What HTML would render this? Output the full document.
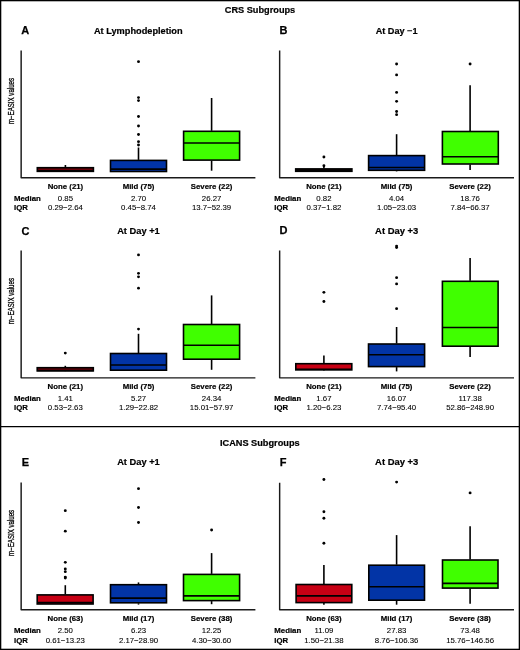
<!DOCTYPE html>
<html><head><meta charset="utf-8"><style>
html,body{margin:0;padding:0;background:#fff;}
body{width:520px;height:650px;overflow:hidden;}
svg{display:block;will-change:transform;font-family:"Liberation Sans",sans-serif;}
.let{font-weight:bold;font-size:11px;stroke:#000;stroke-width:0.25px;}
.ttl{font-weight:bold;font-size:9.15px;stroke:#000;stroke-width:0.2px;}
.hdr{font-weight:bold;font-size:9.2px;stroke:#000;stroke-width:0.2px;}
.lab{font-weight:bold;font-size:7.8px;stroke:#000;stroke-width:0.2px;}
.num{font-size:7.8px;stroke:#000;stroke-width:0.08px;}
.ylab{font-size:8.4px;stroke:#000;stroke-width:0.3px;}
.axis{fill:none;stroke:#1a1a1a;stroke-width:1.45;stroke-linejoin:round;}
.wh{stroke:#000;stroke-width:1.6;}
.box{stroke:#000;stroke-width:1.6;}
.med{stroke:#000;stroke-width:1.6;}
</style></head><body>
<svg width="520" height="650" viewBox="0 0 520 650">
<rect x="0" y="0" width="520" height="650" fill="#fff"/>
<rect x="0.65" y="0.65" width="518.7" height="648.7" fill="none" stroke="#000" stroke-width="1.3"/>
<line x1="0" x2="520" y1="426.55" y2="426.55" stroke="#000" stroke-width="1.2"/>
<text x="260" y="13.4" class="hdr" text-anchor="middle">CRS Subgroups</text>
<text x="259.8" y="445.5" class="hdr" text-anchor="middle">ICANS Subgroups</text>
<text x="21.2" y="34.45" class="let">A</text>
<text x="138.3" y="33.8" class="ttl" text-anchor="middle" textLength="88.7" lengthAdjust="spacingAndGlyphs">At Lymphodepletion</text>
<path d="M21.15 50.5V177.8H255.4" class="axis"/>
<text transform="translate(14.1 101) rotate(-90) scale(0.73 1)" class="ylab" text-anchor="middle">m−EASIX values</text>
<line x1="65.4" x2="65.4" y1="165" y2="167.2" class="wh"/>
<rect x="37.30" y="167.70" width="56.10" height="3.65" fill="#6a0008" class="box"/>
<line x1="37.30" x2="93.40" y1="170.8" y2="170.8" class="med"/>
<line x1="138.5" x2="138.5" y1="147.5" y2="159.9" class="wh"/>
<rect x="110.50" y="160.40" width="56.00" height="11.10" fill="#0234a6" class="box"/>
<line x1="110.50" x2="166.50" y1="169.1" y2="169.1" class="med"/>
<ellipse cx="138.5" cy="61.7" rx="1.45" ry="1.4"/>
<ellipse cx="138.5" cy="97.6" rx="1.45" ry="1.4"/>
<ellipse cx="138.5" cy="100.6" rx="1.45" ry="1.4"/>
<ellipse cx="138.5" cy="116.5" rx="1.45" ry="1.4"/>
<ellipse cx="138.5" cy="126" rx="1.45" ry="1.4"/>
<ellipse cx="138.5" cy="134.5" rx="1.45" ry="1.4"/>
<ellipse cx="138.5" cy="141.7" rx="1.45" ry="1.4"/>
<ellipse cx="138.5" cy="145" rx="1.45" ry="1.4"/>
<line x1="211.6" x2="211.6" y1="98.0" y2="130.8" class="wh"/>
<line x1="211.6" x2="211.6" y1="160.6" y2="170.7" class="wh"/>
<rect x="183.60" y="131.30" width="56.00" height="28.80" fill="#40ff00" class="box"/>
<line x1="183.60" x2="239.60" y1="143.0" y2="143.0" class="med"/>
<text x="65.4" y="188.8" class="lab" text-anchor="middle">None (21)</text>
<text x="65.4" y="200.65" class="num" text-anchor="middle">0.85</text>
<text x="65.4" y="210.3" class="num" text-anchor="middle">0.29−2.64</text>
<text x="138.5" y="188.8" class="lab" text-anchor="middle">Mild (75)</text>
<text x="138.5" y="200.65" class="num" text-anchor="middle">2.70</text>
<text x="138.5" y="210.3" class="num" text-anchor="middle">0.45−8.74</text>
<text x="211.6" y="188.8" class="lab" text-anchor="middle">Severe (22)</text>
<text x="211.6" y="200.65" class="num" text-anchor="middle">26.27</text>
<text x="211.6" y="210.3" class="num" text-anchor="middle">13.7−52.39</text>
<text x="14" y="200.65" class="lab">Median</text>
<text x="14" y="210.3" class="lab">IQR</text>
<text x="279.5" y="34.1" class="let">B</text>
<text x="396.6" y="33.8" class="ttl" text-anchor="middle">At Day −1</text>
<path d="M279.65 50.5V177.8H514" class="axis"/>
<line x1="323.9" x2="323.9" y1="165.8" y2="168.4" class="wh"/>
<rect x="295.70" y="168.90" width="56.20" height="2.40" fill="#1a0000" class="box"/>
<line x1="295.70" x2="351.90" y1="170.5" y2="170.5" class="med"/>
<ellipse cx="323.9" cy="157" rx="1.45" ry="1.4"/>
<ellipse cx="323.9" cy="165.75" rx="1.45" ry="1.4"/>
<line x1="396.6" x2="396.6" y1="134.2" y2="155.1" class="wh"/>
<line x1="396.6" x2="396.6" y1="170.8" y2="171.4" class="wh"/>
<rect x="368.60" y="155.60" width="56.00" height="14.70" fill="#0234a6" class="box"/>
<line x1="368.60" x2="424.60" y1="167.5" y2="167.5" class="med"/>
<ellipse cx="396.6" cy="64.0" rx="1.45" ry="1.4"/>
<ellipse cx="396.6" cy="74.9" rx="1.45" ry="1.4"/>
<ellipse cx="396.6" cy="92.4" rx="1.45" ry="1.4"/>
<ellipse cx="396.6" cy="101.3" rx="1.45" ry="1.4"/>
<ellipse cx="396.6" cy="111.5" rx="1.45" ry="1.4"/>
<ellipse cx="396.6" cy="114.7" rx="1.45" ry="1.4"/>
<line x1="470.1" x2="470.1" y1="85.2" y2="131.0" class="wh"/>
<line x1="470.1" x2="470.1" y1="164.5" y2="170.1" class="wh"/>
<rect x="442.40" y="131.50" width="55.90" height="32.50" fill="#40ff00" class="box"/>
<line x1="442.40" x2="498.30" y1="156.8" y2="156.8" class="med"/>
<ellipse cx="470.1" cy="64.0" rx="1.45" ry="1.4"/>
<text x="323.9" y="188.8" class="lab" text-anchor="middle">None (21)</text>
<text x="323.9" y="200.65" class="num" text-anchor="middle">0.82</text>
<text x="323.9" y="210.3" class="num" text-anchor="middle">0.37−1.82</text>
<text x="396.6" y="188.8" class="lab" text-anchor="middle">Mild (75)</text>
<text x="396.6" y="200.65" class="num" text-anchor="middle">4.04</text>
<text x="396.6" y="210.3" class="num" text-anchor="middle">1.05−23.03</text>
<text x="470.1" y="188.8" class="lab" text-anchor="middle">Severe (22)</text>
<text x="470.1" y="200.65" class="num" text-anchor="middle">18.76</text>
<text x="470.1" y="210.3" class="num" text-anchor="middle">7.84−66.37</text>
<text x="274.3" y="200.65" class="lab">Median</text>
<text x="274.3" y="210.3" class="lab">IQR</text>
<text x="21.4" y="234.5" class="let">C</text>
<text x="138.45" y="233.75" class="ttl" text-anchor="middle" textLength="42.6" lengthAdjust="spacingAndGlyphs">At Day +1</text>
<path d="M21.15 250.6V377.85H255.4" class="axis"/>
<text transform="translate(14.1 301.1) rotate(-90) scale(0.73 1)" class="ylab" text-anchor="middle">m−EASIX values</text>
<line x1="65.3" x2="65.3" y1="365.8" y2="367.2" class="wh"/>
<line x1="65.3" x2="65.3" y1="371.4" y2="371.5" class="wh"/>
<rect x="37.20" y="367.70" width="56.10" height="3.20" fill="#6a0008" class="box"/>
<line x1="37.20" x2="93.30" y1="370.5" y2="370.5" class="med"/>
<ellipse cx="65.3" cy="353.1" rx="1.45" ry="1.4"/>
<line x1="138.5" x2="138.5" y1="333.8" y2="353.0" class="wh"/>
<rect x="110.50" y="353.50" width="56.00" height="16.70" fill="#0234a6" class="box"/>
<line x1="110.50" x2="166.50" y1="365.0" y2="365.0" class="med"/>
<ellipse cx="138.5" cy="254.9" rx="1.45" ry="1.4"/>
<ellipse cx="138.5" cy="273.3" rx="1.45" ry="1.4"/>
<ellipse cx="138.5" cy="276.8" rx="1.45" ry="1.4"/>
<ellipse cx="138.5" cy="288.2" rx="1.45" ry="1.4"/>
<ellipse cx="138.5" cy="329.1" rx="1.45" ry="1.4"/>
<line x1="211.6" x2="211.6" y1="295.4" y2="324.0" class="wh"/>
<line x1="211.6" x2="211.6" y1="359.7" y2="369.8" class="wh"/>
<rect x="183.50" y="324.50" width="56.10" height="34.70" fill="#40ff00" class="box"/>
<line x1="183.50" x2="239.60" y1="345.2" y2="345.2" class="med"/>
<text x="65.3" y="388.9" class="lab" text-anchor="middle">None (21)</text>
<text x="65.3" y="400.65" class="num" text-anchor="middle">1.41</text>
<text x="65.3" y="410.3" class="num" text-anchor="middle">0.53−2.63</text>
<text x="138.5" y="388.9" class="lab" text-anchor="middle">Mild (75)</text>
<text x="138.5" y="400.65" class="num" text-anchor="middle">5.27</text>
<text x="138.5" y="410.3" class="num" text-anchor="middle">1.29−22.82</text>
<text x="211.6" y="388.9" class="lab" text-anchor="middle">Severe (22)</text>
<text x="211.6" y="400.65" class="num" text-anchor="middle">24.34</text>
<text x="211.6" y="410.3" class="num" text-anchor="middle">15.01−57.97</text>
<text x="14" y="400.65" class="lab">Median</text>
<text x="14" y="410.3" class="lab">IQR</text>
<text x="279.5" y="233.9" class="let">D</text>
<text x="396.7" y="233.6" class="ttl" text-anchor="middle" textLength="43.2" lengthAdjust="spacingAndGlyphs">At Day +3</text>
<path d="M279.65 250.5V377.85H514" class="axis"/>
<line x1="323.9" x2="323.9" y1="355.5" y2="363.2" class="wh"/>
<line x1="323.9" x2="323.9" y1="370.4" y2="370.9" class="wh"/>
<rect x="295.80" y="363.70" width="56.00" height="6.20" fill="#c80014" class="box"/>
<line x1="295.80" x2="351.80" y1="369.3" y2="369.3" class="med"/>
<ellipse cx="323.9" cy="292.3" rx="1.45" ry="1.4"/>
<ellipse cx="323.9" cy="301.5" rx="1.45" ry="1.4"/>
<line x1="396.6" x2="396.6" y1="327" y2="343.5" class="wh"/>
<line x1="396.6" x2="396.6" y1="367.1" y2="371.4" class="wh"/>
<rect x="368.50" y="344.00" width="56.10" height="22.60" fill="#0234a6" class="box"/>
<line x1="368.50" x2="424.60" y1="354.7" y2="354.7" class="med"/>
<ellipse cx="396.6" cy="246.1" rx="1.45" ry="1.4"/>
<ellipse cx="396.6" cy="247.6" rx="1.45" ry="1.4"/>
<ellipse cx="396.6" cy="277.7" rx="1.45" ry="1.4"/>
<ellipse cx="396.6" cy="283.9" rx="1.45" ry="1.4"/>
<ellipse cx="396.6" cy="308.7" rx="1.45" ry="1.4"/>
<line x1="470.1" x2="470.1" y1="257.9" y2="280.8" class="wh"/>
<line x1="470.1" x2="470.1" y1="346.7" y2="356.9" class="wh"/>
<rect x="442.40" y="281.30" width="55.70" height="64.90" fill="#40ff00" class="box"/>
<line x1="442.40" x2="498.10" y1="327.55" y2="327.55" class="med"/>
<text x="323.9" y="388.9" class="lab" text-anchor="middle">None (21)</text>
<text x="323.9" y="400.65" class="num" text-anchor="middle">1.67</text>
<text x="323.9" y="410.3" class="num" text-anchor="middle">1.20−6.23</text>
<text x="396.6" y="388.9" class="lab" text-anchor="middle">Mild (75)</text>
<text x="396.6" y="400.65" class="num" text-anchor="middle">16.07</text>
<text x="396.6" y="410.3" class="num" text-anchor="middle">7.74−95.40</text>
<text x="470.1" y="388.9" class="lab" text-anchor="middle">Severe (22)</text>
<text x="470.1" y="400.65" class="num" text-anchor="middle">117.38</text>
<text x="470.1" y="410.3" class="num" text-anchor="middle">52.86−248.90</text>
<text x="274.3" y="400.65" class="lab">Median</text>
<text x="274.3" y="410.3" class="lab">IQR</text>
<text x="21.8" y="465.6" class="let">E</text>
<text x="138.45" y="465.4" class="ttl" text-anchor="middle" textLength="42.6" lengthAdjust="spacingAndGlyphs">At Day +1</text>
<path d="M21.15 482.5V609.8H255.4" class="axis"/>
<text transform="translate(14.1 532.9) rotate(-90) scale(0.73 1)" class="ylab" text-anchor="middle">m−EASIX values</text>
<line x1="65.3" x2="65.3" y1="585.2" y2="594.4" class="wh"/>
<rect x="37.20" y="594.90" width="55.90" height="9.10" fill="#c80014" class="box"/>
<line x1="37.20" x2="93.10" y1="602.6" y2="602.6" class="med"/>
<ellipse cx="65.3" cy="510.7" rx="1.45" ry="1.4"/>
<ellipse cx="65.3" cy="531.2" rx="1.45" ry="1.4"/>
<ellipse cx="65.3" cy="562.3" rx="1.45" ry="1.4"/>
<ellipse cx="65.3" cy="568.9" rx="1.45" ry="1.4"/>
<ellipse cx="65.3" cy="571.7" rx="1.45" ry="1.4"/>
<ellipse cx="65.3" cy="577.1" rx="1.45" ry="1.4"/>
<ellipse cx="65.3" cy="578.0" rx="1.45" ry="1.4"/>
<line x1="138.5" x2="138.5" y1="582.4" y2="584.2" class="wh"/>
<line x1="138.5" x2="138.5" y1="603.3" y2="604.6" class="wh"/>
<rect x="110.50" y="584.70" width="56.00" height="18.10" fill="#0234a6" class="box"/>
<line x1="110.50" x2="166.50" y1="598.1" y2="598.1" class="med"/>
<ellipse cx="138.5" cy="488.7" rx="1.45" ry="1.4"/>
<ellipse cx="138.5" cy="507.5" rx="1.45" ry="1.4"/>
<ellipse cx="138.5" cy="522.5" rx="1.45" ry="1.4"/>
<line x1="211.6" x2="211.6" y1="553.1" y2="573.9" class="wh"/>
<line x1="211.6" x2="211.6" y1="601.1" y2="604.2" class="wh"/>
<rect x="183.50" y="574.40" width="56.10" height="26.20" fill="#40ff00" class="box"/>
<line x1="183.50" x2="239.60" y1="595.9" y2="595.9" class="med"/>
<ellipse cx="211.6" cy="530" rx="1.45" ry="1.4"/>
<text x="65.3" y="621.0" class="lab" text-anchor="middle">None (63)</text>
<text x="65.3" y="633.2" class="num" text-anchor="middle">2.50</text>
<text x="65.3" y="642.5" class="num" text-anchor="middle">0.61−13.23</text>
<text x="138.5" y="621.0" class="lab" text-anchor="middle">Mild (17)</text>
<text x="138.5" y="633.2" class="num" text-anchor="middle">6.23</text>
<text x="138.5" y="642.5" class="num" text-anchor="middle">2.17−28.90</text>
<text x="211.6" y="621.0" class="lab" text-anchor="middle">Severe (38)</text>
<text x="211.6" y="633.2" class="num" text-anchor="middle">12.25</text>
<text x="211.6" y="642.5" class="num" text-anchor="middle">4.30−30.60</text>
<text x="14" y="633.2" class="lab">Median</text>
<text x="14" y="642.5" class="lab">IQR</text>
<text x="279.8" y="465.6" class="let">F</text>
<text x="396.7" y="465.1" class="ttl" text-anchor="middle" textLength="43.2" lengthAdjust="spacingAndGlyphs">At Day +3</text>
<path d="M279.65 482.8V609.8H514" class="axis"/>
<line x1="323.9" x2="323.9" y1="565.1" y2="584.0" class="wh"/>
<line x1="323.9" x2="323.9" y1="603.1" y2="604.8" class="wh"/>
<rect x="296.10" y="584.50" width="55.70" height="18.10" fill="#c80014" class="box"/>
<line x1="296.10" x2="351.80" y1="595.9" y2="595.9" class="med"/>
<ellipse cx="323.9" cy="479.5" rx="1.45" ry="1.4"/>
<ellipse cx="323.9" cy="511.75" rx="1.45" ry="1.4"/>
<ellipse cx="323.9" cy="518.25" rx="1.45" ry="1.4"/>
<ellipse cx="323.9" cy="543.25" rx="1.45" ry="1.4"/>
<line x1="396.6" x2="396.6" y1="535.1" y2="564.7" class="wh"/>
<line x1="396.6" x2="396.6" y1="600.7" y2="604.7" class="wh"/>
<rect x="368.80" y="565.20" width="55.70" height="35.00" fill="#0234a6" class="box"/>
<line x1="368.80" x2="424.50" y1="586.8" y2="586.8" class="med"/>
<ellipse cx="396.6" cy="482.1" rx="1.45" ry="1.4"/>
<line x1="470.1" x2="470.1" y1="526.2" y2="559.5" class="wh"/>
<line x1="470.1" x2="470.1" y1="588.6" y2="603.8" class="wh"/>
<rect x="442.50" y="560.00" width="55.50" height="28.10" fill="#40ff00" class="box"/>
<line x1="442.50" x2="498.00" y1="583.4" y2="583.4" class="med"/>
<ellipse cx="470.1" cy="492.9" rx="1.45" ry="1.4"/>
<text x="323.9" y="621.0" class="lab" text-anchor="middle">None (63)</text>
<text x="323.9" y="633.2" class="num" text-anchor="middle">11.09</text>
<text x="323.9" y="642.5" class="num" text-anchor="middle">1.50−21.38</text>
<text x="396.6" y="621.0" class="lab" text-anchor="middle">Mild (17)</text>
<text x="396.6" y="633.2" class="num" text-anchor="middle">27.83</text>
<text x="396.6" y="642.5" class="num" text-anchor="middle">8.76−106.36</text>
<text x="470.1" y="621.0" class="lab" text-anchor="middle">Severe (38)</text>
<text x="470.1" y="633.2" class="num" text-anchor="middle">73.48</text>
<text x="470.1" y="642.5" class="num" text-anchor="middle">15.76−146.56</text>
<text x="274.3" y="633.2" class="lab">Median</text>
<text x="274.3" y="642.5" class="lab">IQR</text>
</svg>
</body></html>
